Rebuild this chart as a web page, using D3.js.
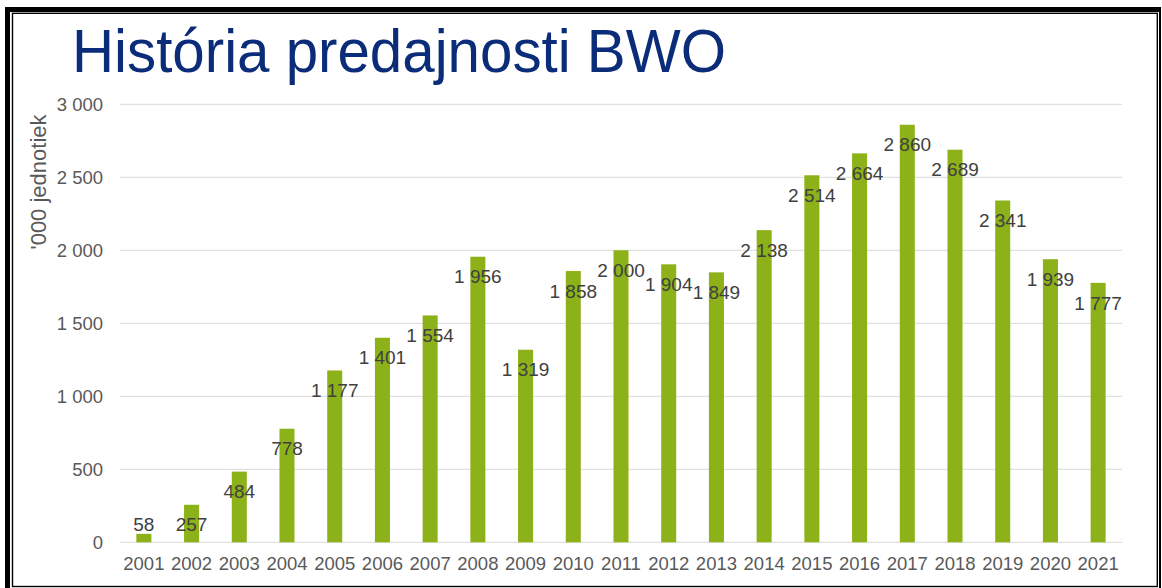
<!DOCTYPE html>
<html>
<head>
<meta charset="utf-8">
<script src="https://cdn.jsdelivr.net/npm/d3@7"></script>
<style>
  html, body { margin: 0; padding: 0; background: #fff; }
  svg { display: block; font-family: "Liberation Sans", Arial, sans-serif; }
</style>
</head>
<body>
<div id="chart"></div>
<script>
const years = ['2001', '2002', '2003', '2004', '2005', '2006', '2007', '2008', '2009', '2010', '2011',
  '2012', '2013', '2014', '2015', '2016', '2017', '2018', '2019', '2020', '2021'];
const sales = [58, 257, 484, 778, 1177, 1401, 1554, 1956, 1319, 1858, 2000,
  1904, 1849, 2138, 2514, 2664, 2860, 2689, 2341, 1939, 1777];
const yTicks = [0, 500, 1000, 1500, 2000, 2500, 3000];

const width = 1162, height = 588;
const margin = { top: 104.3, right: 40, bottom: 45.7, left: 120 };

const svg = d3.select('#chart').append('svg')
  .attr('width', width).attr('height', height);

// double frame: heavy outer, thin inner
const frame = svg.append('g').attr('fill', '#000');
frame.append('rect').attr('x', 5).attr('y', 7).attr('width', 5).attr('height', height - 7);
frame.append('rect').attr('x', 5).attr('y', 7).attr('width', 1156).attr('height', 5);
frame.append('rect').attr('x', 1159).attr('y', 7).attr('width', 2).attr('height', height - 7);
svg.append('rect').attr('x', 12.5).attr('y', 13.3).attr('width', 1144.8).attr('height', 573.2)
  .attr('fill', 'none').attr('stroke', '#000').attr('stroke-width', 1.4);

svg.append('text')
  .attr('x', 72).attr('y', 72)
  .attr('fill', '#0b2c78').attr('font-size', 61)
  .attr('textLength', 654).attr('lengthAdjust', 'spacingAndGlyphs')
  .text('História predajnosti BWO');

const x = d3.scaleBand().domain(years)
  .range([margin.left, width - margin.right]).paddingInner(0.685).paddingOuter(0.3425);
const y = d3.scaleLinear().domain([0, 3000])
  .range([height - margin.bottom, margin.top]);

const fmt = v => d3.format(',')(v).replace(/,/g, ' ');

// gridlines
svg.append('g').selectAll('line').data(yTicks).join('line')
  .attr('x1', margin.left).attr('x2', width - margin.right)
  .attr('y1', d => y(d)).attr('y2', d => y(d))
  .attr('stroke', '#d9d9d9').attr('stroke-width', 1);

// y axis labels
const yAxis = svg.append('g')
  .attr('transform', `translate(${margin.left},0)`)
  .call(d3.axisLeft(y).tickValues(yTicks).tickFormat(fmt).tickSize(0).tickPadding(17));
yAxis.select('.domain').remove();
yAxis.selectAll('text').attr('font-size', 18.5).attr('fill', '#595959')
  .attr('font-family', '"Liberation Sans", Arial, sans-serif');

svg.append('text')
  .attr('transform', 'translate(38,182) rotate(-90)')
  .attr('text-anchor', 'middle').attr('dy', '0.35em')
  .attr('font-size', 22).attr('fill', '#595959')
  .text('\'000 jednotiek');

// bars
svg.append('g').selectAll('rect').data(sales).join('rect')
  .attr('x', (d, i) => x(years[i])).attr('width', x.bandwidth())
  .attr('y', d => y(d)).attr('height', d => y(0) - y(d))
  .attr('fill', '#8db219');

// x axis labels
const xAxis = svg.append('g')
  .attr('transform', `translate(0,${y(0)})`)
  .call(d3.axisBottom(x).tickSize(0).tickPadding(15));
xAxis.select('.domain').remove();
xAxis.selectAll('text').attr('font-size', 18.5).attr('fill', '#595959')
  .attr('font-family', '"Liberation Sans", Arial, sans-serif');

// data labels
svg.append('g').selectAll('text').data(sales).join('text')
  .attr('x', (d, i) => x(years[i]) + x.bandwidth() / 2)
  .attr('y', d => Math.min(y(d) + 20, y(0) - 18))
  .attr('dy', '0.35em')
  .attr('text-anchor', 'middle').attr('font-size', 19).attr('fill', '#404040')
  .text(fmt);
</script>
</body>
</html>
